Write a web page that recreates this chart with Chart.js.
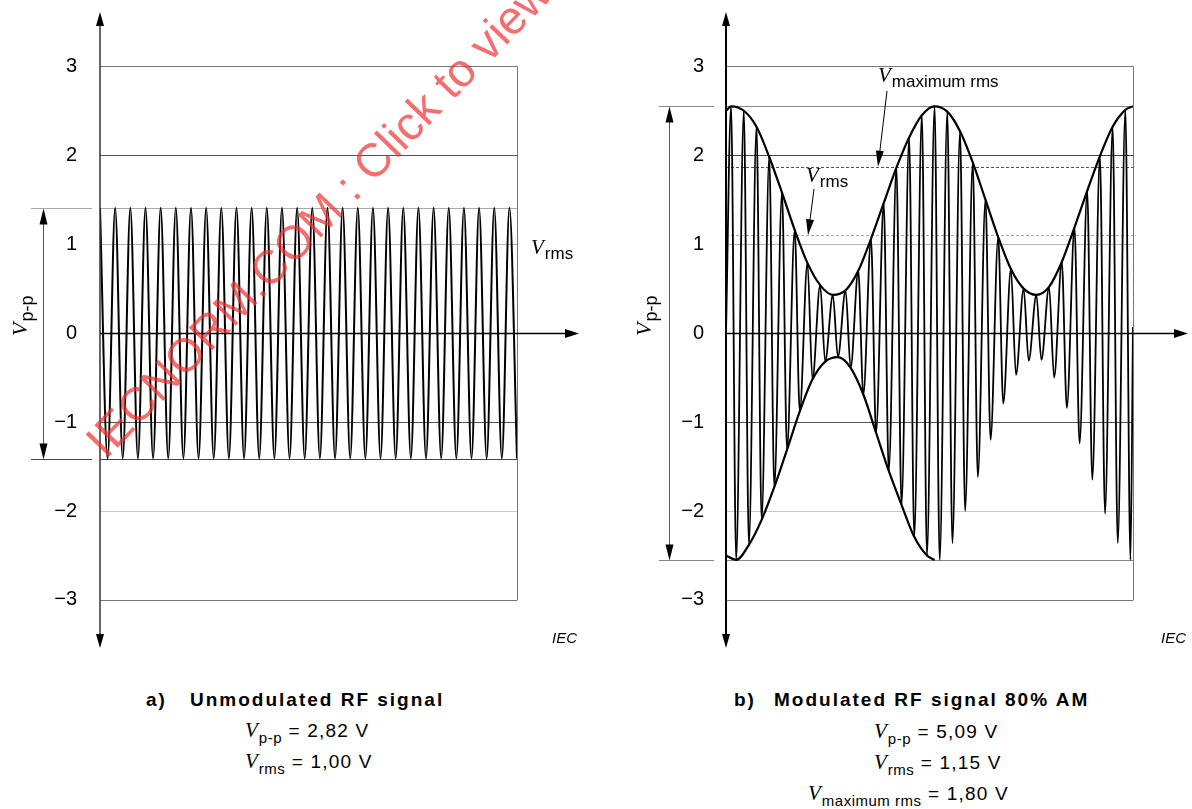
<!DOCTYPE html>
<html>
<head>
<meta charset="utf-8">
<script src="https://cdn.jsdelivr.net/npm/chart.js@4"></script>
<style>
  html, body { margin: 0; padding: 0; background: #fff; }
  body { width: 1192px; height: 809px; position: relative; overflow: hidden;
         font-family: "Liberation Sans", Arial, sans-serif; color: #000; }
  canvas { position: absolute; top: 0; }
  #leftChart { left: 0; }
  #rightChart { left: 596px; }
  .cap { position: absolute; white-space: nowrap; font-size: 19px; line-height: 19px; letter-spacing: 1.2px; }
  .title { font-weight: bold; letter-spacing: 2px; }
  .cap i { font-family: "Liberation Serif", serif; font-size: 21px; line-height: 0; letter-spacing: 0; }
  .cap sub { font-size: 15px; line-height: 0; vertical-align: -6px; letter-spacing: 0.5px; margin-left: 1px; }
</style>
</head>
<body>
<canvas id="leftChart" width="596" height="660"></canvas>
<canvas id="rightChart" width="596" height="660"></canvas>

<div class="cap title" style="left:146px; top:690px">a)</div>
<div class="cap title" style="left:190px; top:690px">Unmodulated RF signal</div>
<div class="cap" style="left:245px; top:721px"><i>V</i><sub>p-p</sub> = 2,82 V</div>
<div class="cap" style="left:245px; top:752px"><i>V</i><sub>rms</sub> = 1,00 V</div>

<div class="cap title" style="left:734px; top:690px">b)</div>
<div class="cap title" style="left:774px; top:690px">Modulated RF signal 80% AM</div>
<div class="cap" style="left:874px; top:722px"><i>V</i><sub>p-p</sub> = 5,09 V</div>
<div class="cap" style="left:874px; top:753px"><i>V</i><sub>rms</sub> = 1,15 V</div>
<div class="cap" style="left:808px; top:784px"><i>V</i><sub>maximum rms</sub> = 1,80 V</div>

<script>
// Tick labels on both voltage axes
const yTicks = [-3, -2, -1, 0, 1, 2, 3];
const yMin = -3.54;
const yMax = 3.61;

// a) Unmodulated carrier, time in carrier cycles, volts
const leftTime = [0, 0.5, 1, 1.5, 2, 2.5, 3, 3.5, 4, 4.5, 5, 5.5, 6, 6.5, 7, 7.5, 8, 8.5, 9, 9.5,
  10, 10.5, 11, 11.5, 12, 12.5, 13, 13.5, 14, 14.5, 15, 15.5, 16, 16.5, 17, 17.5, 18, 18.5, 19, 19.5,
  20, 20.5, 21, 21.5, 22, 22.5, 23, 23.5, 24, 24.5, 25, 25.5, 26, 26.5, 27, 27.5];
const leftVolts = [1.41, -1.41, 1.41, -1.41, 1.41, -1.41, 1.41, -1.41, 1.41, -1.41, 1.41, -1.41, 1.41, -1.41,
  1.41, -1.41, 1.41, -1.41, 1.41, -1.41, 1.41, -1.41, 1.41, -1.41, 1.41, -1.41, 1.41, -1.41,
  1.41, -1.41, 1.41, -1.41, 1.41, -1.41, 1.41, -1.41, 1.41, -1.41, 1.41, -1.41, 1.41, -1.41,
  1.41, -1.41, 1.41, -1.41, 1.41, -1.41, 1.41, -1.41, 1.41, -1.41, 1.41, -1.41, 1.41, -1.41];
const leftPeak = 1.41;   // half of Vp-p
const leftRms = 1.00;

// b) 80 % AM carrier: peaks and troughs of each carrier cycle
const rightPeakTime = [0.4, 1.4, 2.4, 3.4, 4.4, 5.4, 6.4, 7.4, 8.4, 9.4, 10.4, 11.4, 12.4, 13.4, 14.4, 15.4,
  16.4, 17.4, 18.4, 19.4, 20.4, 21.4, 22.4, 23.4, 24.4, 25.4, 26.4, 27.4, 28.4, 29.4, 30.4, 31.4];
const rightPeakVolts = [2.55, 2.50, 2.32, 1.98, 1.58, 1.16, 0.79, 0.54, 0.43, 0.48, 0.70, 1.06, 1.46, 1.86, 2.20, 2.45,
  2.55, 2.49, 2.27, 1.92, 1.50, 1.08, 0.72, 0.50, 0.43, 0.52, 0.80, 1.19, 1.60, 1.99, 2.32, 2.51];
const rightTroughTime = [0.8, 1.8, 2.8, 3.8, 4.8, 5.8, 6.8, 7.8, 8.8, 9.8, 10.8, 11.8, 12.8, 13.8, 14.8, 15.8,
  16.8, 17.8, 18.8, 19.8, 20.8, 21.8, 22.8, 23.8, 24.8, 25.8, 26.8, 27.8, 28.8, 29.8, 30.8, 31.8];
const rightTroughVolts = [-2.55, -2.38, -2.10, -1.73, -1.31, -0.88, -0.52, -0.32, -0.27, -0.39, -0.69, -1.12, -1.55, -1.93, -2.29, -2.50,
  -2.55, -2.36, -2.00, -1.62, -1.20, -0.79, -0.47, -0.31, -0.30, -0.50, -0.84, -1.24, -1.65, -2.03, -2.36, -2.55];
const rightEnds = [0, 0.07];            // carrier value at start / end of trace
const upperEnvEnds = [2.50, 2.55];      // envelope at t = 0 and t = 32
const lowerEnvEnds = [-2.50, -2.55];    // lower envelope at t = 0 and where it stops
const lowerEnvStop = 16.4;              // lower envelope drawn for first period only
const rightPeak = 2.55;
const rightRms = 1.10;
const rightMaxRms = 1.87;

Chart.defaults.font.family = '"Liberation Sans", Arial, sans-serif';

const SANS = '"Liberation Sans", Arial, sans-serif';
const SERIF = '"Liberation Serif", serif';

// Build the datasets
const leftCarrier = leftTime.map((t, i) => ({ x: t, y: leftVolts[i] }));

const rightCarrier = [{ x: 0, y: rightEnds[0] }];
rightPeakTime.forEach((t, i) => {
  rightCarrier.push({ x: t, y: rightPeakVolts[i] });
  rightCarrier.push({ x: rightTroughTime[i], y: rightTroughVolts[i] });
});
rightCarrier.push({ x: 32, y: rightEnds[1] });

const upperEnv = [{ x: 0, y: upperEnvEnds[0] }]
  .concat(rightPeakTime.map((t, i) => ({ x: t, y: rightPeakVolts[i] })))
  .concat([{ x: 32, y: upperEnvEnds[1] }]);

const lowerEnv = [{ x: 0, y: lowerEnvEnds[0] }];
rightTroughTime.forEach((t, i) => {
  if (t < lowerEnvStop) lowerEnv.push({ x: t, y: rightTroughVolts[i] });
});
lowerEnv.push({ x: lowerEnvStop, y: lowerEnvEnds[1] });

// small drawing helpers
function arrowHead(ctx, x, y, angle, len, half) {
  ctx.save();
  ctx.translate(x, y);
  ctx.rotate(angle);
  ctx.beginPath();
  ctx.moveTo(0, 0);
  ctx.lineTo(-len, -half);
  ctx.lineTo(-len, half);
  ctx.closePath();
  ctx.fill();
  ctx.restore();
}

function vText(ctx, x, y, sub, vSize, subSize, drop) {
  ctx.font = 'italic ' + vSize + 'px ' + SERIF;
  ctx.fillText('V', x, y);
  const w = ctx.measureText('V').width;
  ctx.font = subSize + 'px ' + SANS;
  ctx.fillText(sub, x + w + 1, y + drop);
}

function figurePlugin(spec) {
  return {
    id: 'figure',
    beforeDatasetsDraw(chart) {
      const { ctx, chartArea: a, scales: { y } } = chart;
      ctx.save();
      ctx.lineWidth = 1;
      spec.lines.forEach(l => {
        const py = Math.round(y.getPixelForValue(l.value)) + 0.5;
        ctx.strokeStyle = l.color;
        ctx.setLineDash(l.dash || []);
        ctx.beginPath();
        ctx.moveTo(a.left, py);
        ctx.lineTo(a.right, py);
        if (l.ext) {
          ctx.moveTo(l.ext[0], py);
          ctx.lineTo(l.ext[1], py);
        }
        ctx.stroke();
      });
      // right edge of the frame
      ctx.setLineDash([]);
      ctx.strokeStyle = '#777';
      const rx = Math.round(a.right) + 0.5;
      ctx.beginPath();
      ctx.moveTo(rx, Math.round(y.getPixelForValue(3)) + 0.5);
      ctx.lineTo(rx, Math.round(y.getPixelForValue(-3)) + 0.5);
      ctx.stroke();
      ctx.restore();
    },
    afterDatasetsDraw(chart) {
      const { ctx, chartArea: a, scales: { y } } = chart;
      ctx.save();
      ctx.fillStyle = '#000';

      // x axis with arrow
      const y0 = Math.round(y.getPixelForValue(0)) + 0.5;
      ctx.strokeStyle = '#000';
      ctx.lineWidth = 1.5;
      ctx.beginPath();
      ctx.moveTo(a.left, y0);
      ctx.lineTo(spec.xArrow - 6, y0);
      ctx.stroke();
      arrowHead(ctx, spec.xArrow, y0, 0, 14, 4.5);

      // y axis with arrows at both ends
      ctx.strokeStyle = spec.yAxisColor;
      ctx.lineWidth = spec.yAxisWidth;
      ctx.beginPath();
      ctx.moveTo(a.left, a.top + 6);
      ctx.lineTo(a.left, a.bottom - 6);
      ctx.stroke();
      arrowHead(ctx, a.left, a.top, -Math.PI / 2, 14, 4);
      arrowHead(ctx, a.left, a.bottom, Math.PI / 2, 14, 4);

      // peak-to-peak dimension arrow
      const pTop = Math.round(y.getPixelForValue(spec.peak)) + 0.5;
      const pBot = Math.round(y.getPixelForValue(-spec.peak)) + 0.5;
      ctx.strokeStyle = '#555';
      ctx.lineWidth = 1;
      ctx.beginPath();
      ctx.moveTo(spec.vppX + 0.5, pTop + 8);
      ctx.lineTo(spec.vppX + 0.5, pBot - 8);
      ctx.stroke();
      arrowHead(ctx, spec.vppX + 0.5, pTop, -Math.PI / 2, 16, 4);
      arrowHead(ctx, spec.vppX + 0.5, pBot, Math.PI / 2, 16, 4);

      // rotated Vp-p label
      ctx.save();
      ctx.translate(spec.vppLabel[0], spec.vppLabel[1]);
      ctx.rotate(-Math.PI / 2);
      vText(ctx, 0, 0, 'p-p', 22, 18, 6);
      ctx.restore();

      // rms annotations
      spec.notes.forEach(n => {
        vText(ctx, n.x, n.y, n.sub, 21, 17, 5);
        if (n.arrow) {
          const tipY = y.getPixelForValue(n.arrow.value);
          const [x1, y1, x2] = n.arrow.path;
          const ang = Math.atan2(tipY - y1, x2 - x1);
          ctx.strokeStyle = '#000';
          ctx.lineWidth = 1;
          ctx.beginPath();
          ctx.moveTo(x1, y1);
          ctx.lineTo(x2 - Math.cos(ang) * 10, tipY - Math.sin(ang) * 10);
          ctx.stroke();
          arrowHead(ctx, x2, tipY, ang, 16, 4);
        }
      });

      // IEC mark
      ctx.font = 'italic 15px ' + SANS;
      ctx.fillText('IEC', spec.iec[0], spec.iec[1]);

      // watermark
      if (spec.watermark) {
        ctx.save();
        ctx.translate(spec.watermark[0], spec.watermark[1]);
        ctx.rotate(-46 * Math.PI / 180);
        ctx.font = '47px ' + SANS;
        ctx.fillStyle = 'rgba(238, 50, 50, 0.7)';
        ctx.fillText('IECNORM.COM : Click to view', 0, 0);
        ctx.restore();
      }
      ctx.restore();
    }
  };
}

function makeChart(id, datasets, xMax, axisWidth, spec) {
  return new Chart(document.getElementById(id), {
    type: 'line',
    data: { datasets: datasets },
    options: {
      responsive: false,
      animation: false,
      events: [],
      layout: { padding: { top: 12, bottom: 12, left: 0, right: spec.padRight } },
      elements: {
        point: { radius: 0 },
        line: { borderColor: '#000', cubicInterpolationMode: 'monotone', fill: false }
      },
      plugins: { legend: { display: false }, tooltip: { enabled: false } },
      scales: {
        x: { type: 'linear', min: 0, max: xMax, display: false },
        y: {
          type: 'linear', min: yMin, max: yMax,
          afterBuildTicks: s => { s.ticks = yTicks.map(v => ({ value: v })); },
          afterFit: s => { s.width = axisWidth; s.paddingTop = 0; s.paddingBottom = 0; },
          grid: { display: false },
          border: { display: false },
          ticks: {
            padding: spec.tickPad,
            color: '#000',
            font: { size: 20 },
            callback: v => (v < 0 ? '\u2212' + (-v) : String(v))
          }
        }
      }
    },
    plugins: [figurePlugin(spec)]
  });
}

// a) Unmodulated RF signal
makeChart('leftChart', [
  { data: leftCarrier, borderWidth: 2 }
], 27.5, 100, {
  padRight: 79,
  tickPad: 15,
  peak: leftPeak,
  xArrow: 579,
  yAxisColor: '#333',
  yAxisWidth: 1.5,
  vppX: 43,
  vppLabel: [27, 336],
  iec: [552, 643],
  watermark: [106, 460],
  lines: [
    { value: 3, color: '#777' },
    { value: 2, color: '#555' },
    { value: leftRms, color: '#b4b4b4' },
    { value: -1, color: '#555' },
    { value: -2, color: '#c8c8c8' },
    { value: -3, color: '#777' },
    { value: leftPeak, color: '#aaa', ext: [31, 92] },
    { value: -leftPeak, color: '#444', ext: [31, 92] }
  ],
  notes: [
    { x: 531, y: 254, sub: 'rms' }
  ]
});

// b) Modulated RF signal 80 % AM
makeChart('rightChart', [
  { data: rightCarrier, borderWidth: 1.8 },
  { data: upperEnv, borderWidth: 2.2 },
  { data: lowerEnv, borderWidth: 2.2 }
], 32, 130, {
  padRight: 59,
  tickPad: 14,
  peak: rightPeak,
  xArrow: 592,
  yAxisColor: '#000',
  yAxisWidth: 2,
  vppX: 73,
  vppLabel: [55, 336],
  iec: [565, 643],
  watermark: null,
  lines: [
    { value: 3, color: '#777' },
    { value: 2, color: '#444' },
    { value: 1, color: '#b4b4b4' },
    { value: -1, color: '#555' },
    { value: -2, color: '#c8c8c8' },
    { value: -3, color: '#777' },
    { value: rightPeak, color: '#888', ext: [63, 118] },
    { value: -rightPeak, color: '#888', ext: [63, 118] },
    { value: rightMaxRms, color: '#555', dash: [3, 2] },
    { value: rightRms, color: '#aaa', dash: [3, 2] }
  ],
  notes: [
    { x: 282, y: 82, sub: 'maximum rms', arrow: { value: rightMaxRms, path: [291, 91, 282] } },
    { x: 210, y: 182, sub: 'rms', arrow: { value: rightRms, path: [218, 189, 212] } }
  ]
});
</script>
</body>
</html>
